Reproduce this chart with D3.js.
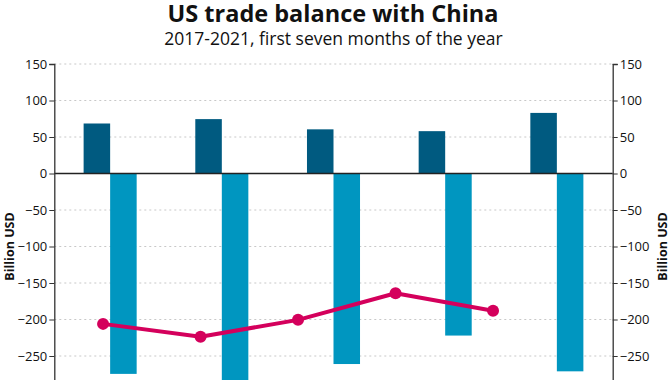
<!DOCTYPE html>
<html>
<head>
<meta charset="utf-8">
<script src="https://cdn.jsdelivr.net/npm/d3@7"></script>
<style>
  html, body { margin: 0; padding: 0; background: #fff; overflow: hidden; }
  svg { display: block; font-family: "Open Sans", sans-serif; }
</style>
</head>
<body>
<div id="chart"></div>
<script>
const years = ["2017", "2018", "2019", "2020", "2021"];
const exportsVals = [68.5, 74.5, 60.5, 58, 83];
const importsVals = [-274.5, -298, -261, -222, -271];
const balanceVals = [-206, -223.5, -200.5, -164, -188];
const yTicks = [150, 100, 50, 0, -50, -100, -150, -200, -250];
const titleText = "US trade balance with China";
const subtitleText = "2017-2021, first seven months of the year";
const axisTitle = "Billion USD";

const W = 670, H = 380;
const margin = { top: 64, left: 54.3, right: 57.3 };
const plotW = W - margin.left - margin.right;
const plotBottom = 429;

const svg = d3.select("#chart").append("svg").attr("width", W).attr("height", H);

const y = d3.scaleLinear().domain([-350, 150]).range([plotBottom, margin.top]);
const x = d3.scaleBand().domain(years).range([margin.left, margin.left + plotW])
  .paddingInner(0.525).paddingOuter(0.2625);
const xSub = d3.scaleBand().domain(["exp", "imp"]).range([0, x.bandwidth()]);
const xLine = d3.scaleBand().domain(years).range([margin.left, margin.left + plotW * 0.873]);

// gridlines
svg.append("g").selectAll("line").data(yTicks.filter(t => t !== 0)).join("line")
  .attr("x1", margin.left).attr("x2", margin.left + plotW)
  .attr("y1", d => y(d)).attr("y2", d => y(d))
  .attr("stroke", "#c8c8c8").attr("stroke-width", 1).attr("stroke-dasharray", "2,3");

// bars
const g = svg.append("g");
g.selectAll("rect.exp").data(years).join("rect").attr("class", "exp")
  .attr("x", (d) => x(d) + xSub("exp"))
  .attr("width", xSub.bandwidth())
  .attr("y", (d, i) => y(Math.max(0, exportsVals[i])))
  .attr("height", (d, i) => Math.abs(y(exportsVals[i]) - y(0)))
  .attr("fill", "#005a80");
g.selectAll("rect.imp").data(years).join("rect").attr("class", "imp")
  .attr("x", (d) => x(d) + xSub("imp"))
  .attr("width", xSub.bandwidth())
  .attr("y", (d, i) => y(Math.max(0, importsVals[i])))
  .attr("height", (d, i) => Math.abs(y(importsVals[i]) - y(0)))
  .attr("fill", "#0096c0");

// zero line
svg.append("line").attr("x1", margin.left).attr("x2", margin.left + plotW)
  .attr("y1", y(0)).attr("y2", y(0)).attr("stroke", "#222").attr("stroke-width", 1.3);

// axes
const leftAxis = d3.axisLeft(y).tickValues(yTicks).tickSize(5).tickPadding(2);
const rightAxis = d3.axisRight(y).tickValues(yTicks).tickSize(5).tickPadding(2);
const la = svg.append("g").attr("transform", `translate(${margin.left},0)`).call(leftAxis);
const ra = svg.append("g").attr("transform", `translate(${margin.left + plotW},0)`).call(rightAxis);
[la, ra].forEach(a => {
  a.select(".domain").attr("stroke", "#333").attr("stroke-width", 1.3);
  a.selectAll(".tick line").attr("stroke", "#333");
  a.selectAll(".tick text").attr("fill", "#111").style("font-size", "13px").style("font-family", "'Open Sans', sans-serif");
});

// line
const line = d3.line().x((d, i) => xLine(years[i]) + xLine.bandwidth() / 2).y(d => y(d));
svg.append("path").datum(balanceVals).attr("d", line)
  .attr("fill", "none").attr("stroke", "#d4005c").attr("stroke-width", 4).attr("stroke-linejoin", "round");
svg.append("g").selectAll("circle").data(balanceVals).join("circle")
  .attr("cx", (d, i) => xLine(years[i]) + xLine.bandwidth() / 2)
  .attr("cy", d => y(d)).attr("r", 6).attr("fill", "#d4005c");

// axis titles
svg.append("text").attr("transform", `translate(14,${(margin.top + plotBottom) / 2}) rotate(-90)`)
  .attr("text-anchor", "middle").style("font-weight", "bold").style("font-size", "12.5px").attr("fill", "#111")
  .text(axisTitle);
svg.append("text").attr("transform", `translate(667,${(margin.top + plotBottom) / 2}) rotate(-90)`)
  .attr("text-anchor", "middle").style("font-weight", "bold").style("font-size", "12.5px").attr("fill", "#111")
  .text(axisTitle);

// titles
svg.append("text").attr("x", 333).attr("y", 22).attr("text-anchor", "middle")
  .style("font-weight", "bold").style("font-size", "23.5px").attr("fill", "#111").text(titleText);
svg.append("text").attr("x", 333.5).attr("y", 44.5).attr("text-anchor", "middle")
  .style("font-size", "17.5px").attr("fill", "#111").text(subtitleText);
</script>
</body>
</html>
